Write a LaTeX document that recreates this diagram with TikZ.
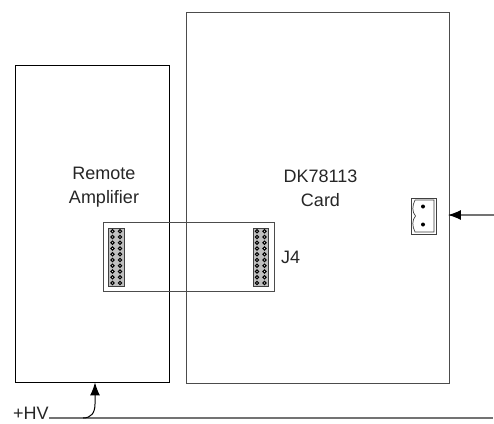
\documentclass[tikz,border=0pt]{standalone}
\usepackage{fontspec}
\setmainfont{Liberation Sans}
\usetikzlibrary{arrows.meta,calc}
\tikzset{
  x=1pt,y=-1pt,
  box/.style={draw=#1,line width=.9pt,minimum width=0pt,inner sep=0pt,fill=none},
  lbl/.style={font=\fontsize{18}{24}\selectfont,align=center,inner sep=0pt,text=black!85},
  wire/.style={draw=black!55,line width=1.1pt},
  tip/.style={-{Latex[length=13pt,width=10pt,black]}},
  pin/.style={draw=black,line width=1pt,fill=white}
}
\newcommand{\pinheader}[2]{%
  \fill[black!25] (#1,#2) rectangle ++(15.5,58);
  \draw[black!75,line width=.6pt] (#1,#2) rectangle ++(15.5,58);
  \foreach \r in {0,...,9}{
    \draw[pin] ({#1+4},{#2+3.2+5.75*\r}) circle (1.6pt);
    \draw[pin] ({#1+11.5},{#2+3.2+5.75*\r}) circle (1.6pt);
  }
}
\begin{document}
\begin{tikzpicture}
\useasboundingbox (0,0) rectangle (494,423);
\fill[white] (0,0) rectangle (494,423);
\node[box=black,minimum width=154pt,minimum height=317pt] (amp) at (92,223.5) {};
\node[box=black!70,minimum width=263pt,minimum height=371pt] (card) at (317.5,197.5) {};
\node[box=black!70,minimum width=171pt,minimum height=69pt] (j4box) at (188.5,256.5) {};
\node[lbl] (amplabel) at (104,187) {Remote\\Amplifier};
\node[lbl] (cardlabel) at (320.5,188) {DK78113\\Card};
\node[lbl,anchor=west] (j4) at (281,257) {J4};
\pinheader{108.5}{228}
\pinheader{253}{228}
% terminal block
\node[draw=black!75,line width=.9pt,minimum width=25pt,minimum height=36pt,inner sep=0pt] (term) at (423.5,216) {};
\draw[black!75,line width=.7pt] (415,200) -- (434,200) -- (434,232) -- (415,232)
  .. controls (412,226) and (412,220) .. (415.5,216) .. controls (412,212) and (412,206) .. (415,200);
\fill (423,206.5) circle (2pt);
\fill (423,224.5) circle (2pt);
\coordinate (r1) at (494,215);
\draw[wire,tip,shorten >=-1.5pt] (r1) -- (card.east |- r1);
\coordinate (r2) at (493,418);
\node[lbl,anchor=west] (hv) at (13,413) {+HV};
\draw[wire] (hv.east |- r2) -- (r2);
\coordinate (turn) at (83,418);
\coordinate (bend) at (95,404);
\draw[draw=black,line width=1pt,tip] (turn) .. controls (91,418) and (95,413) .. (bend) -- (bend |- amp.south);
\end{tikzpicture}
\end{document}
